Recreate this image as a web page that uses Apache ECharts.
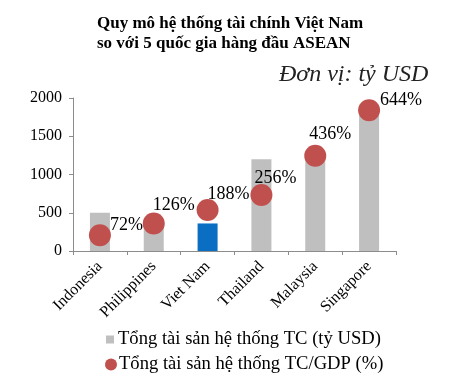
<!DOCTYPE html>
<html>
<head>
<meta charset="utf-8">
<script src="https://cdn.jsdelivr.net/npm/echarts@6/dist/echarts.min.js"></script>
<style>
html,body{margin:0;padding:0;background:#fff;}
#c{width:450px;height:386px;}
</style>
</head>
<body>
<div id="c"></div>
<script>
const categories = ['Indonesia', 'Philippines', 'Viet Nam', 'Thailand', 'Malaysia', 'Singapore'];
const totalAssets = [500, 330, 360, 1200, 1250, 1800];
const assetsToGdp = [72, 126, 188, 256, 436, 644];
const yTicks = [0, 500, 1000, 1500, 2000];
const seriesNames = ['Tổng tài sản hệ thống TC (tỷ USD)', 'Tổng tài sản hệ thống TC/GDP (%)'];

const labelOffsets = [[10, -10], [-1, -18], [0, -16], [-7, -17], [-6, -21], [11, -10]];
const serif = '"Liberation Serif", "DejaVu Serif", serif';

const chart = echarts.init(document.getElementById('c'));
chart.setOption({
  backgroundColor: '#fff',
  animation: false,
  title: [{
    text: 'Quy mô hệ thống tài chính Việt Nam\nso với 5 quốc gia hàng đầu ASEAN',
    left: 92, top: 9,
    textStyle: { fontFamily: serif, fontWeight: 'bold', fontSize: 17, lineHeight: 20, color: '#000' }
  }, {
    text: 'Đơn vị: tỷ USD',
    left: 274, top: 58,
    textStyle: { fontFamily: serif, fontStyle: 'italic', fontWeight: 'normal', fontSize: 24, color: '#222' }
  }],
  legend: [{
    data: [{ name: seriesNames[0], icon: 'rect', itemStyle: { color: '#bfbfbf' } }],
    left: 101, top: 325,
    itemWidth: 8, itemHeight: 8,
    textStyle: { fontFamily: serif, fontSize: 18.6, color: '#000', padding: [0, 0, 0, -1] }
  }, {
    data: [{ name: seriesNames[1], icon: 'circle' }],
    left: 100, top: 350,
    itemWidth: 12, itemHeight: 12,
    textStyle: { fontFamily: serif, fontSize: 18.6, color: '#000', padding: [0, 0, 0, -3] }
  }],
  grid: { left: 73, right: 54, top: 98, bottom: 135, containLabel: false },
  xAxis: {
    type: 'category',
    data: categories,
    boundaryGap: true,
    axisLine: { lineStyle: { color: '#8c8c8c', width: 1 } },
    axisTick: { show: true, length: 4, lineStyle: { color: '#8c8c8c' } },
    axisLabel: { rotate: 45, fontFamily: serif, fontSize: 16, color: '#000', margin: 13 }
  },
  yAxis: [{
    type: 'value', min: yTicks[0], max: yTicks[yTicks.length - 1], interval: 500,
    axisLine: { show: true, lineStyle: { color: '#8c8c8c', width: 1 } },
    axisTick: { show: true, length: 4, inside: false, lineStyle: { color: '#8c8c8c' } },
    splitLine: { show: false },
    axisLabel: {
      fontFamily: serif, fontSize: 16, color: '#000', margin: 11,
      formatter: function (v) { return String(v); }
    }
  }, {
    type: 'value', min: 0, max: 700, show: false,
    splitLine: { show: false }
  }],
  series: [{
    name: seriesNames[0],
    type: 'bar',
    data: totalAssets,
    barWidth: 20,
    itemStyle: {
      color: function (p) { return categories[p.dataIndex] === 'Viet Nam' ? '#0a6fc2' : '#bfbfbf'; }
    },
    z: 2
  }, {
    name: seriesNames[1],
    type: 'scatter',
    yAxisIndex: 1,
    data: assetsToGdp.map(function (v, i) {
      return {
        value: v,
        label: { offset: labelOffsets[i] }
      };
    }),
    symbol: 'circle',
    symbolSize: 22,
    itemStyle: { color: '#c0504d', opacity: 1 },
    label: {
      show: true,
      position: 'inside',
      align: 'left',
      verticalAlign: 'middle',
      fontFamily: serif,
      fontSize: 18,
      color: '#000',
      formatter: function (p) { return p.value + '%'; }
    },
    z: 3
  }]
});
</script>
</body>
</html>
